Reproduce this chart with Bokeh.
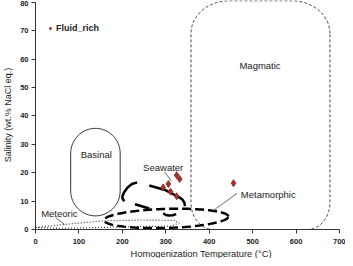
import numpy as np
from bokeh.plotting import figure
from bokeh.models import ColumnDataSource, Range1d, Legend, LegendItem, Title
from bokeh.core.properties import value
from bokeh.embed import file_html
from bokeh.resources import INLINE

FONT = "Liberation Sans"

# ---- data: homogenization temperature (deg C) and salinity (wt.% NaCl eq.)
th_c = [294, 306, 311, 325, 325, 332, 456]
salinity = [14.8, 16.0, 13.3, 11.7, 19.1, 17.8, 16.3]

x_ticks = [0, 100, 200, 300, 400, 500, 600, 700]
y_ticks = [0, 10, 20, 30, 40, 50, 60, 70, 80]

# ---- fluid-type fields (in data units)
magmatic_box = [358, 678, 0.0, 80.5]        # Tmin, Tmax, Smin, Smax
magmatic_top_corner = [88, 11.5]            # corner radius (T, S)
magmatic_bottom_corner = [52, 9.5]
basinal_box = [81, 195, 4.8, 35.6]
meteoric_t = [1, 67, 153, 244, 319, 331, 312, 199, 62, 1]
meteoric_s = [0.7, 1.8, 3.0, 3.35, 3.2, 2.3, 1.2, 0.9, 0.4, 0.7]
metamorphic_ellipse = [301, 3.9, 143, 3.35, 0.65]   # cT, cS, aT, bS, tilt
seawater_arc_t = [234, 222, 212, 204, 200, 201, 205]
seawater_arc_s = [16.6, 16.0, 14.8, 13.1, 11.6, 10.6, 10.0]
seawater_line_t = [262, 300, 330, 338, 343, 344]
seawater_line_s = [15.5, 13.8, 11.4, 10.6, 9.4, 8.2]
seawater_dash_t = [229, 262]
seawater_dash_s = [8.9, 7.4]
seawater_cup_t = [294, 300, 307, 316, 324]
seawater_cup_s = [5.7, 5.1, 4.9, 5.0, 5.4]

field_names = ["Magmatic", "Basinal", "Seawater", "Metamorphic", "Meteoric"]
field_label_t = [517, 140, 294, 536, 55]
field_label_s = [57.8, 26.3, 21.8, 12.2, 5.8]
leader_t = [[297, 312.5], [464, 407], [47, 67]]
leader_s = [[20.3, 17.1], [12.7, 6.4], [4.1, 1.8]]

x_title = "Homogenization Temperature (°C)"
y_title = "Salinity (wt.% NaCl eq.)"


def rounded_rect(box, top_r, bot_r, n=24):
    x0, x1, y0, y1 = box
    rxt, ryt = top_r
    rxb, ryb = bot_r
    xs, ys = [], []
    corners = [
        (x1 - rxt, y1 - ryt, rxt, ryt, 0.0),
        (x0 + rxt, y1 - ryt, rxt, ryt, np.pi / 2),
        (x0 + rxb, y0 + ryb, rxb, ryb, np.pi),
        (x1 - rxb, y0 + ryb, rxb, ryb, 1.5 * np.pi),
    ]
    for cx, cy, rx, ry, a0 in corners:
        th = np.linspace(a0, a0 + np.pi / 2, n)
        xs.extend(cx + rx * np.cos(th))
        ys.extend(cy + ry * np.sin(th))
    xs.append(xs[0]); ys.append(ys[0])
    return xs, ys


def stadium(box, n=40):
    x0, x1, y0, y1 = box
    r = (x1 - x0) / 2.0
    cx = (x0 + x1) / 2.0
    ry = 25 / 2.83
    th1 = np.linspace(0, np.pi, n)
    th2 = np.linspace(np.pi, 2 * np.pi, n)
    xs = list(cx + r * np.cos(th1)) + list(cx + r * np.cos(th2))
    ys = list(y1 - ry + ry * np.sin(th1)) + list(y0 + ry + ry * np.sin(th2))
    xs.append(xs[0]); ys.append(ys[0])
    return xs, ys


def tilted_ellipse(params, n=120):
    cx, cy, a, b, c = params
    th = np.linspace(0, 2 * np.pi, n)
    return list(cx + a * np.cos(th)), list(cy + b * np.sin(th) + c * np.cos(th))


p = figure(width=345, height=258, output_backend="svg", toolbar_location=None,
           title=None,
           x_range=Range1d(0, 700), y_range=Range1d(0, 80.6),
           min_border_left=2, min_border_top=0, min_border_right=6,
           min_border_bottom=0)
p.background_fill_color = "white"
p.border_fill_color = "white"
p.outline_line_color = None
p.xgrid.visible = False
p.ygrid.visible = False

for ax in (p.xaxis[0], p.yaxis[0]):
    ax.major_label_text_font = FONT
    ax.major_label_text_font_size = "7.5px"
    ax.major_label_text_font_style = "bold"
    ax.major_label_text_color = "#222222"
    ax.axis_label_text_font = FONT
    ax.axis_label_text_font_size = "9px"
    ax.axis_label_text_font_style = "normal"
    ax.axis_label_text_color = "#222222"
    ax.axis_line_color = "#333333"
    ax.major_tick_line_color = "#333333"
    ax.major_tick_out = 4
    ax.major_tick_in = 0
    ax.minor_tick_line_color = None

p.xaxis.ticker = x_ticks
p.yaxis.ticker = y_ticks
p.xaxis.bounds = (0, 700)
p.yaxis.bounds = (0, 80)
p.yaxis.axis_label = y_title
p.xaxis.major_label_standoff = 5
p.yaxis.major_label_standoff = 3
p.yaxis.axis_label_standoff = 4

p.add_layout(Title(text=x_title, align="left", offset=95, standoff=0,
                   text_font=FONT, text_font_size="9.3px",
                   text_font_style="normal", text_color="#222222"), "below")

# Magmatic field
mx, my = rounded_rect(magmatic_box, magmatic_top_corner, magmatic_bottom_corner)
p.line(mx, my, line_color="#444444", line_width=1, line_dash="3 2")

# Basinal field
bx, by = stadium(basinal_box)
p.line(bx, by, line_color="#333333", line_width=1)

# Meteoric field
p.line(meteoric_t, meteoric_s, line_color="#333333", line_width=1.2, line_dash="1 2")

# Metamorphic field
ex, ey = tilted_ellipse(metamorphic_ellipse)
p.line(ex, ey, line_color="black", line_width=2.5, line_dash="9 4")

# Seawater curves
p.multi_line([seawater_arc_t, seawater_line_t, seawater_dash_t, seawater_cup_t],
             [seawater_arc_s, seawater_line_s, seawater_dash_s, seawater_cup_s],
             line_color="black", line_width=2.5)

# leader lines
p.multi_line(leader_t, leader_s, line_color="#444444", line_width=0.8)

# field labels
lab_src = ColumnDataSource(dict(x=field_label_t, y=field_label_s, text=field_names))
p.text(x="x", y="y", text="text", source=lab_src, text_font=value(FONT),
       text_font_size="9.5px", text_color="#222222", text_align="center",
       text_baseline="middle")

# data points
r = p.scatter(th_c, salinity, marker="diamond", size=7,
              fill_color="#A8322A", line_color="#7B1F17", line_width=0.8)

legend = Legend(items=[LegendItem(label="Fluid_rich", renderers=[r])],
                location=(11, 196), background_fill_alpha=0,
                border_line_color=None, label_text_font=FONT,
                label_text_font_size="9px", label_text_font_style="bold",
                label_text_color="#222222", glyph_width=8, glyph_height=10,
                label_height=10, label_standoff=2, padding=2, margin=0)
p.add_layout(legend)

open("out.html", "w").write(file_html(p, INLINE))
